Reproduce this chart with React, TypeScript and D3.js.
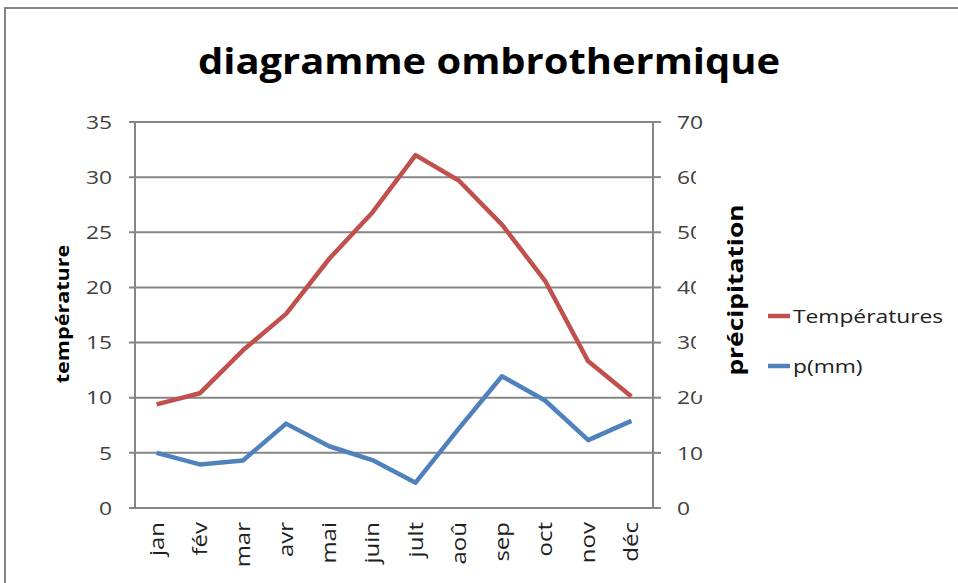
import React from "react";
import * as d3 from "d3";

const WIDTH = 958;
const HEIGHT = 583;
const MARGIN = { top: 122, right: 305, bottom: 75, left: 135 };

const MONTHS = ["jan", "fév", "mar", "avr", "mai", "juin", "jult", "aoû", "sep", "oct", "nov", "déc"];
const TEMPERATURES = [9.4, 10.4, 14.3, 17.6, 22.6, 26.8, 32.0, 29.7, 25.7, 20.6, 13.3, 10.1];
const PRECIPITATION = [10, 7.9, 8.6, 15.3, 11.2, 8.7, 4.6, 14.4, 23.9, 19.5, 12.3, 15.8];
const TEMP_TICKS = [0, 5, 10, 15, 20, 25, 30, 35];
const PREC_TICKS = [0, 10, 20, 30, 40, 50, 60, 70];

const RED = "#C0504D";
const BLUE = "#4F81BD";
const GRID = "#868686";
const FONT = "'Open Sans', 'Noto Sans', sans-serif";
// the original screenshot is stretched sideways a bit, so text gets widened
const STRETCH = 1.2;

type LabelProps = {
  x: number;
  y: number;
  rotate?: number;
  anchor?: "start" | "middle" | "end";
  size: number;
  bold?: boolean;
  fill?: string;
  children: React.ReactNode;
};

const Label = ({ x, y, rotate = 0, anchor = "start", size, bold, fill = "#404040", children }: LabelProps) => (
  <g transform={`translate(${x},${y}) rotate(${rotate}) scale(${STRETCH},1)`}>
    <text
      dy="0.35em"
      textAnchor={anchor}
      fontFamily={FONT}
      fontWeight={bold ? 700 : 400}
      fontSize={size}
      fill={fill}
    >
      {children}
    </text>
  </g>
);

const App = () => {
  const boundsWidth = WIDTH - MARGIN.left - MARGIN.right;
  const boundsHeight = HEIGHT - MARGIN.top - MARGIN.bottom;

  const xScale = d3.scaleBand().domain(MONTHS).range([0, boundsWidth]);
  const yTemp = d3.scaleLinear().domain([0, 35]).range([boundsHeight, 0]);
  const yPrec = d3.scaleLinear().domain([0, 70]).range([boundsHeight, 0]);

  const cx = (m: string) => (xScale(m) ?? 0) + xScale.bandwidth() / 2;

  const tempLine = d3
    .line<number>()
    .x((_, i) => cx(MONTHS[i]))
    .y((d) => yTemp(d));
  const precLine = d3
    .line<number>()
    .x((_, i) => cx(MONTHS[i]))
    .y((d) => yPrec(d));

  return (
    <svg
      width={WIDTH}
      height={HEIGHT}
      style={{ position: "absolute", left: 0, top: 0, background: "#fff" }}
    >
      <rect x={5} y={8} width={WIDTH} height={HEIGHT} fill="#fff" stroke={GRID} strokeWidth={2} />

      <text
        x={489}
        y={74}
        textAnchor="middle"
        fontFamily={FONT}
        fontWeight={700}
        fontSize={36}
        textLength={582}
        lengthAdjust="spacingAndGlyphs"
        fill="#000"
      >
        diagramme ombrothermique
      </text>

      <g transform={`translate(${MARGIN.left},${MARGIN.top})`}>
        {/* grid + left ticks */}
        {TEMP_TICKS.map((t) => (
          <g key={t}>
            <line x1={-6} x2={boundsWidth} y1={yTemp(t)} y2={yTemp(t)} stroke={GRID} strokeWidth={2} />
            <Label x={-23} y={yTemp(t)} anchor="end" size={19}>
              {t}
            </Label>
          </g>
        ))}
        <line x1={0} x2={0} y1={0} y2={boundsHeight} stroke={GRID} strokeWidth={2} />
        <line x1={boundsWidth} x2={boundsWidth} y1={0} y2={boundsHeight} stroke={GRID} strokeWidth={2} />

        {/* right ticks */}
        {PREC_TICKS.map((t) => (
          <g key={t}>
            <line x1={boundsWidth} x2={boundsWidth + 8} y1={yPrec(t)} y2={yPrec(t)} stroke={GRID} strokeWidth={2} />
            <Label x={boundsWidth + 24} y={yPrec(t)} size={19}>
              {t}
            </Label>
          </g>
        ))}
        {/* axis title box hides part of the right labels */}
        <rect x={boundsWidth + 43} y={48} width={30} height={225} fill="#fff" />

        {/* month labels */}
        {MONTHS.map((m) => (
          <Label key={m} x={cx(m)} y={boundsHeight + 14} rotate={-90} anchor="end" size={20} fill="#202020">
            {m}
          </Label>
        ))}

        <path d={tempLine(TEMPERATURES) ?? ""} fill="none" stroke={RED} strokeWidth={4.5} strokeLinejoin="round" />
        <path d={precLine(PRECIPITATION) ?? ""} fill="none" stroke={BLUE} strokeWidth={4.5} strokeLinejoin="round" />
      </g>

      <Label x={63} y={314} rotate={-90} anchor="middle" size={18} bold fill="#000">
        température
      </Label>
      <Label x={735} y={290} rotate={-90} anchor="middle" size={22} bold fill="#000">
        précipitation
      </Label>

      {/* legend */}
      <line x1={768} x2={790} y1={316} y2={316} stroke={RED} strokeWidth={4.5} />
      <Label x={793} y={316} size={19} fill="#202020">
        Températures
      </Label>
      <line x1={768} x2={790} y1={366} y2={366} stroke={BLUE} strokeWidth={4.5} />
      <Label x={793} y={366} size={19} fill="#202020">
        p(mm)
      </Label>
    </svg>
  );
};

export default App;
